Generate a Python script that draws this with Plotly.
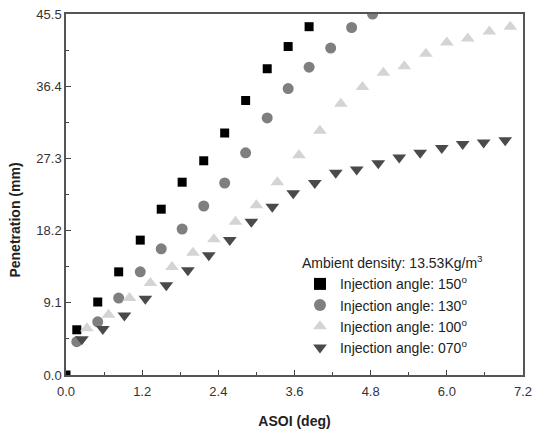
import plotly.graph_objects as go

# ---- data ----
x150 = [0.0, 0.17, 0.5, 0.83, 1.17, 1.5, 1.83, 2.17, 2.5, 2.83, 3.17, 3.5, 3.83]
y150 = [0.0, 5.7, 9.2, 13.0, 17.0, 20.9, 24.3, 27.0, 30.5, 34.6, 38.6, 41.4, 43.9]

x130 = [0.17, 0.5, 0.83, 1.17, 1.5, 1.83, 2.17, 2.5, 2.83, 3.17, 3.5, 3.83, 4.17, 4.5, 4.83]
y130 = [4.2, 6.7, 9.7, 13.0, 15.9, 18.4, 21.3, 24.2, 28.0, 32.4, 36.1, 38.8, 41.2, 43.8, 45.5]

x100 = [0.33, 0.67, 1.0, 1.33, 1.67, 2.0, 2.33, 2.67, 3.0, 3.33, 3.67, 4.0, 4.33, 4.67,
        5.0, 5.33, 5.67, 6.0, 6.33, 6.67, 7.0]
y100 = [5.9, 7.6, 9.7, 11.6, 13.6, 15.4, 17.1, 19.3, 21.4, 24.3, 27.7, 30.8, 34.2, 36.3,
        38.1, 38.9, 40.5, 41.9, 42.4, 43.3, 43.9]

x070 = [0.25, 0.58, 0.92, 1.25, 1.58, 1.92, 2.25, 2.58, 2.92, 3.25, 3.58, 3.92, 4.25, 4.58,
        4.92, 5.25, 5.58, 5.92, 6.25, 6.58, 6.92]
y070 = [4.5, 5.8, 7.5, 9.6, 11.3, 13.2, 15.1, 17.0, 19.3, 21.2, 22.9, 24.2, 25.5, 25.9,
        26.7, 27.4, 28.0, 28.6, 29.1, 29.3, 29.6]

xticks = [0.0, 1.2, 2.4, 3.6, 4.8, 6.0, 7.2]
yticks = [0.0, 9.1, 18.2, 27.3, 36.4, 45.5]

names = ["Injection angle: 150<sup>o</sup>", "Injection angle: 130<sup>o</sup>",
         "Injection angle: 100<sup>o</sup>", "Injection angle: 070<sup>o</sup>"]
legend_title = "Ambient density: 13.53Kg/m<sup>3</sup>"
xlabel = "ASOI (deg)"
ylabel = "Penetration (mm)"

FONT = "Liberation Sans, Arial, sans-serif"

fig = go.Figure()
series = [
    (x150, y150, "square", 9, "#000000"),
    (x130, y130, "circle", 11, "#7f7f7f"),
    (x100, y100, "triangle-up", 12, "#d4d4d4"),
    (x070, y070, "triangle-down", 12, "#4a4a4a"),
]
for (xs, ys, sym, sz, col), nm in zip(series, names):
    fig.add_trace(go.Scatter(
        x=xs, y=ys, mode="markers", name=nm, cliponaxis=True,
        marker=dict(symbol=sym, size=sz, color=col, line=dict(width=0)),
    ))

axis_common = dict(
    showline=True, linecolor="#555555", linewidth=1.5, mirror=True,
    ticks="inside", ticklen=5, tickwidth=1.2, tickcolor="#444444",
    showgrid=False, zeroline=False, automargin=False,
    tickfont=dict(family=FONT, size=13, color="#333333"),
)

fig.update_xaxes(
    range=[0, 7.2], tickvals=xticks, ticktext=[f"{v:.1f}" for v in xticks],
    minor=dict(ticks="inside", ticklen=3, tickcolor="#444444", dtick=0.6, tick0=0),
    ticklabelstandoff=4,
    title=dict(text=f"<b>{xlabel}</b>", font=dict(family=FONT, size=14, color="#222222"), standoff=19),
    **axis_common,
)
fig.update_yaxes(
    range=[0, 45.5], tickvals=yticks, ticktext=[f"{v:.1f}" for v in yticks],
    minor=dict(ticks="inside", ticklen=3, tickcolor="#444444", dtick=4.55, tick0=0),
    **axis_common,
)

fig.add_annotation(
    text=f"<b>{ylabel}</b>", textangle=-90, xref="paper", yref="paper",
    x=-0.112, y=0.43, xanchor="center", yanchor="middle", showarrow=False,
    font=dict(family=FONT, size=14, color="#222222"),
)

fig.update_layout(
    width=545, height=429,
    margin=dict(l=66, r=22, t=14, b=54, autoexpand=False),
    paper_bgcolor="white", plot_bgcolor="white",
    showlegend=True,
    legend=dict(
        x=0.512, y=0.346, xanchor="left", yanchor="top",
        bgcolor="rgba(0,0,0,0)", borderwidth=0,
        font=dict(family=FONT, size=14, color="#222222"),
        title=dict(text=legend_title, font=dict(family=FONT, size=14, color="#222222")),
        tracegroupgap=0, itemsizing="constant",
    ),
)

fig.write_html("out.html", config={"displayModeBar": False},
               post_script="document.body.style.margin='0';")
